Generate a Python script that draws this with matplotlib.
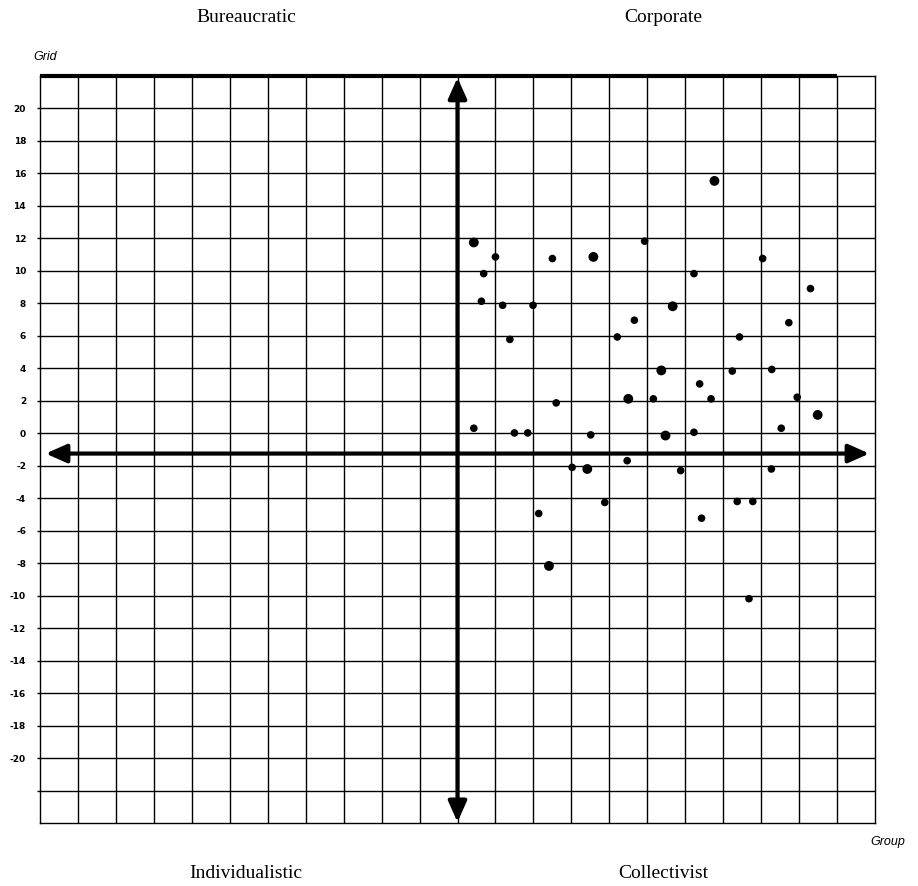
import numpy as np
import matplotlib
matplotlib.use("Agg")
import matplotlib.pyplot as plt

# grid-group scores (x in grid columns, y in grid units)
group_x = [0.43, 1.00, 0.69, 0.63, 1.19, 1.99, 1.38, 2.50, 3.58, 4.93, 6.77, 6.23,
           8.04, 9.30, 5.67, 4.66, 4.21, 8.73, 7.43, 5.37, 7.24, 8.28, 6.38, 4.50,
           5.16, 6.68, 2.60, 8.95, 9.49, 0.43, 1.50, 1.85, 3.51, 5.48, 6.23, 8.53,
           3.02, 3.42, 4.47, 5.88, 8.27, 2.14, 3.88, 6.43, 7.37, 7.78, 2.41, 7.68]
grid_y = [11.75, 10.86, 9.83, 8.13, 7.88, 7.88, 5.78, 10.76, 10.86, 11.83, 15.54, 9.83,
          10.76, 8.91, 7.82, 6.96, 5.93, 6.81, 5.93, 3.87, 3.83, 3.93, 3.04, 2.12,
          2.12, 2.12, 1.87, 2.22, 1.13, 0.31, 0.02, 0.02, -0.10, -0.14, 0.06, 0.31,
          -2.10, -2.20, -1.69, -2.30, -2.20, -4.94, -4.26, -5.23, -4.20, -4.20, -8.17, -10.19]
y_ticks = list(range(-20, 21, 2))
quadrants = ["Bureaucratic", "Corporate", "Individualistic", "Collectivist"]

W, H = 918, 886
fig = plt.figure(figsize=(W / 100, H / 100), dpi=100)
ax = fig.add_axes([40 / W, (H - 823) / H, 835 / W, 747 / H])
ax.set_xlim(-11, 11); ax.set_ylim(-24, 22)

# grid
ax.set_xticks(np.arange(-10, 11))
ax.set_xticklabels([])
ax.tick_params(axis="x", length=0)
ax.set_yticks(np.arange(-22, 22, 2))
ax.set_yticklabels([""] + [str(v) for v in y_ticks], fontweight="bold")
ax.tick_params(axis="y", length=2, width=1, pad=8, labelsize=6.5, colors="black")
ax.grid(True, color="black", lw=1.0)
ax.set_axisbelow(True)
for s in ax.spines.values():
    s.set_linewidth(1.0); s.set_color("black")
ax.plot([-11, 10], [22, 22], color="black", lw=3, solid_capstyle="butt", clip_on=False)

# axes arrows
arr = dict(arrowstyle="<|-|>,head_length=0.9,head_width=0.4", mutation_scale=14,
           lw=3, color="black", shrinkA=0, shrinkB=0)
ax.annotate("", xy=(0, 21.9), xytext=(0, -23.95), arrowprops=arr)
ax.annotate("", xy=(10.85, -1.25), xytext=(-10.85, -1.25), arrowprops=arr)

# points (a few are drawn a bit heavier in the original)
big = {0, 8, 10, 14, 19, 23, 28, 33, 37, 46}
sizes = [50 if i in big else 30 for i in range(len(group_x))]
ax.scatter(group_x, grid_y, s=sizes, color="black", edgecolors="none", zorder=5)


def ftext(px, py, s, **kw):
    fig.text(px / W, 1 - py / H, s, **kw)


serif = dict(family="Liberation Serif", fontsize=14, ha="center", va="center")
ftext(246, 18, quadrants[0], **serif)
ftext(663, 18, quadrants[1], **serif)
ftext(246, 874, quadrants[2], **serif)
ftext(663, 874, quadrants[3], **serif)
ftext(33, 57, "Grid", family="Liberation Sans", style="italic", fontsize=9, ha="left", va="center")
ftext(870, 842, "Group", family="Liberation Sans", style="italic", fontsize=9, ha="left", va="center")

fig.savefig("out.png", dpi=100)
